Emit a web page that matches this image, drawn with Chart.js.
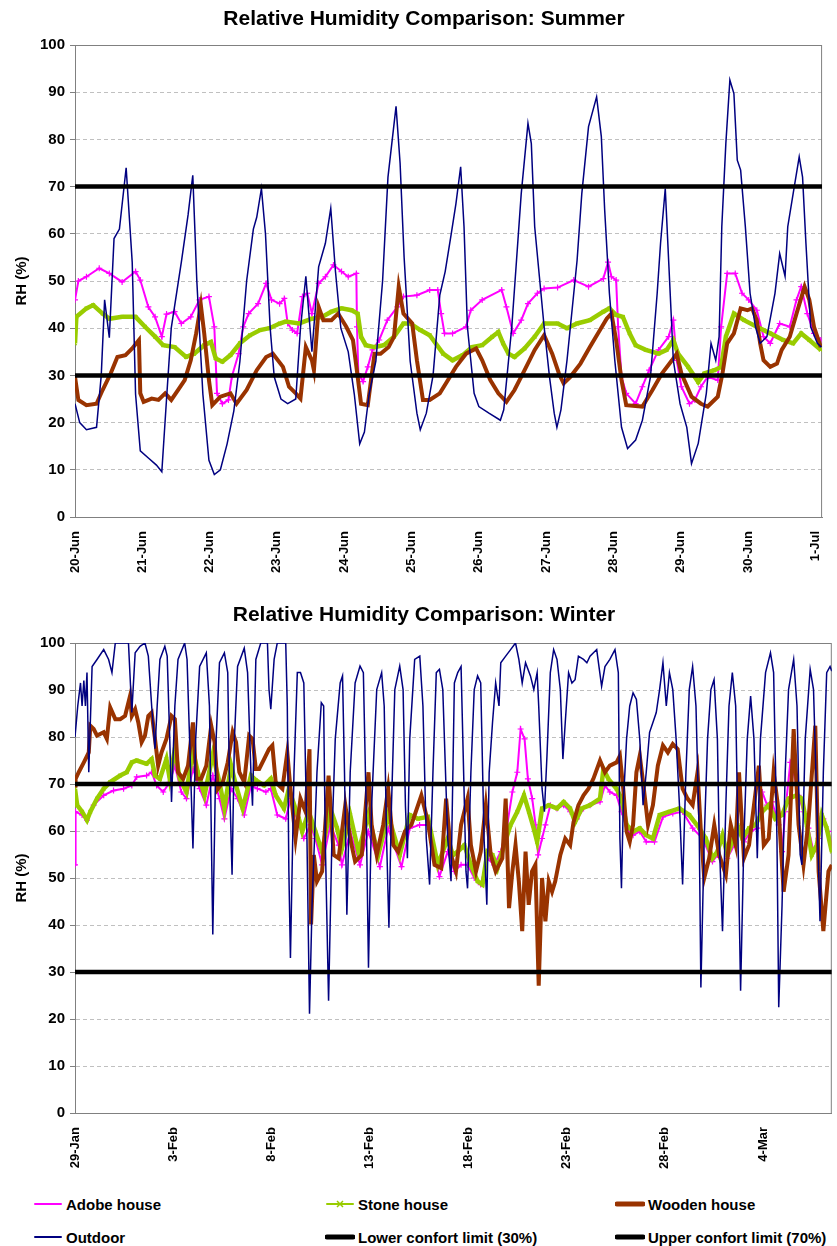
<!DOCTYPE html>
<html>
<head>
<meta charset="utf-8">
<script src="https://cdn.jsdelivr.net/npm/chart.js@4.4.1/dist/chart.umd.min.js"></script>
<style>
  body { margin: 0; background: #fff; width: 837px; height: 1246px; overflow: hidden; font-family: "Liberation Sans", Arial, sans-serif; }
  .chartBox { position: absolute; left: 0; width: 837px; height: 580px; }
  .legendItem { position: absolute; height: 20px; display: flex; align-items: center; font-weight: bold; font-size: 15px; color: #000; white-space: nowrap; }
  .legendItem svg { margin-right: 3px; }
</style>
</head>
<body>
<div class="chartBox" style="top:0"><canvas id="summerChart" width="837" height="580"></canvas></div>
<div class="chartBox" style="top:596px"><canvas id="winterChart" width="837" height="580"></canvas></div>
<div id="legend"></div>
<script>
// ---- data: [day since first tick, RH %] ----
const summerTicks = ['20-Jun', '21-Jun', '22-Jun', '23-Jun', '24-Jun', '25-Jun', '26-Jun', '27-Jun', '28-Jun', '29-Jun', '30-Jun', '1-Jul'];
const winterTicks = ['29-Jan', '3-Feb', '8-Feb', '13-Feb', '18-Feb', '23-Feb', '28-Feb', '4-Mar'];
const lowerLimit = 30;
const upperLimit = 70;

const summerAdobe = [[0,46],[0.05,50],[0.17,50.9],[0.36,52.7],[0.51,51.6],[0.70,49.8],[0.90,52],[0.97,50.2],[1.09,44.5],[1.19,42.4],[1.29,38.2],[1.36,43],[1.48,43.5],[1.58,41],[1.72,42.4],[1.85,46],[1.99,46.7],[2.07,40.3],[2.11,26.2],[2.19,24],[2.28,24.8],[2.33,29.7],[2.43,34.6],[2.50,40.3],[2.58,43.1],[2.72,45.2],[2.84,49.5],[2.92,46],[3.04,45.2],[3.11,46.3],[3.16,41],[3.23,39.6],[3.30,38.9],[3.38,46.7],[3.45,47.4],[3.52,43.1],[3.62,49.5],[3.72,50.9],[3.84,53.4],[3.96,52],[4.06,50.9],[4.18,51.6],[4.19,40.3],[4.21,30.4],[4.28,28.7],[4.35,31.8],[4.42,35.4],[4.52,37.5],[4.64,41.7],[4.79,44.5],[4.88,46.7],[5.08,47],[5.27,48.1],[5.39,48.1],[5.44,43.1],[5.49,38.9],[5.61,38.9],[5.81,40.3],[5.88,43.8],[6.05,46],[6.34,48.1],[6.41,44.5],[6.51,38.9],[6.63,41.7],[6.73,45.2],[6.87,47.4],[6.97,48.4],[7.17,48.6],[7.41,50.2],[7.63,48.8],[7.85,50.5],[7.92,54],[7.97,50.9],[8.04,50.2],[8.07,40.3],[8.12,29.7],[8.19,26.2],[8.33,24],[8.43,27.6],[8.53,31.1],[8.67,35.4],[8.82,38.2],[8.89,41.7],[8.94,33.2],[9.01,27.6],[9.13,24],[9.21,24.8],[9.30,27.6],[9.40,29.7],[9.55,29],[9.60,40.3],[9.69,51.6],[9.81,51.6],[9.91,47.4],[10.01,46],[10.13,43.8],[10.23,38.2],[10.33,36.8],[10.47,41],[10.62,40.3],[10.72,46],[10.79,48.8],[10.88,43.1],[10.98,38.9],[11.08,37.5]];
const summerStone = [[0,36.8],[0.02,42.4],[0.17,44.2],[0.27,44.9],[0.41,43.1],[0.51,42],[0.70,42.4],[0.90,42.4],[1.04,40.3],[1.19,38.2],[1.31,36.4],[1.48,36],[1.65,33.9],[1.77,34.6],[1.92,36.4],[2.02,37.1],[2.09,33.6],[2.19,32.9],[2.31,34.3],[2.45,36.8],[2.60,38.5],[2.75,39.6],[2.89,40],[3.04,41],[3.13,41.4],[3.33,41],[3.52,42],[3.67,42.4],[3.81,43.5],[3.96,44.2],[4.11,43.8],[4.20,43.1],[4.25,38.2],[4.32,36.4],[4.45,36],[4.59,36.4],[4.74,38.2],[4.88,41],[4.98,41],[5.13,39.6],[5.27,38.5],[5.47,34.6],[5.61,33.2],[5.76,34.3],[5.90,36],[6.05,36.4],[6.20,38.2],[6.29,39.2],[6.36,36.8],[6.44,34.6],[6.53,33.9],[6.68,35.7],[6.83,38.2],[6.97,41],[7.17,41],[7.31,40],[7.46,41],[7.65,41.7],[7.85,43.5],[7.94,44.2],[8.04,42.8],[8.14,42.4],[8.24,38.9],[8.33,36.4],[8.48,35.4],[8.67,34.6],[8.79,35.4],[8.89,37.5],[8.96,34.6],[9.11,31.8],[9.26,28.6],[9.35,30.4],[9.50,31.1],[9.60,31.8],[9.67,38.2],[9.79,43.1],[9.94,41.7],[10.13,40.3],[10.33,38.9],[10.52,37.5],[10.67,36.8],[10.79,38.9],[10.91,37.5],[11.08,35.4]];
const summerWooden = [[0,29.7],[0.05,24.8],[0.17,23.7],[0.32,24],[0.41,26.9],[0.53,30.4],[0.63,33.9],[0.75,34.3],[0.85,35.7],[0.95,37.5],[0.97,26.2],[1.02,24.4],[1.14,25.1],[1.24,24.8],[1.34,26.2],[1.43,24.8],[1.53,26.9],[1.63,29],[1.72,33.2],[1.80,38.9],[1.87,44.9],[1.92,38.9],[1.99,29],[2.04,23.7],[2.16,25.5],[2.31,26.2],[2.40,24],[2.55,26.9],[2.70,31.1],[2.84,33.9],[2.94,34.6],[3.09,31.8],[3.18,27.6],[3.28,26.2],[3.35,25.1],[3.43,36],[3.52,33.2],[3.55,31.1],[3.62,44.5],[3.69,41.7],[3.81,41.7],[3.91,43.1],[4.03,40.3],[4.13,37.5],[4.20,29.7],[4.25,24],[4.35,23.7],[4.45,34.6],[4.54,34.6],[4.66,36],[4.74,38.2],[4.81,48.8],[4.88,43.1],[5.01,41],[5.08,33.2],[5.17,24.8],[5.27,24.8],[5.42,26.2],[5.51,28.3],[5.66,31.8],[5.81,34.6],[5.96,35.7],[6.05,33.2],[6.17,29],[6.29,26.2],[6.41,24.4],[6.53,26.9],[6.68,31.1],[6.83,35.4],[6.97,38.5],[7.09,34.6],[7.19,30.4],[7.26,28.3],[7.36,29.7],[7.51,32.5],[7.65,36],[7.80,39.6],[7.90,42],[7.97,43.1],[8.04,37.5],[8.12,29],[8.19,23.7],[8.43,23.4],[8.58,26.9],[8.72,30.4],[8.87,33.2],[8.94,34.6],[9.01,30.4],[9.16,25.5],[9.30,24],[9.40,23.4],[9.55,25.5],[9.62,30.4],[9.69,36.8],[9.79,38.9],[9.89,44.2],[9.99,43.8],[10.06,44.2],[10.13,41.7],[10.18,36.8],[10.23,33.2],[10.33,31.8],[10.43,32.5],[10.50,35.4],[10.62,38.2],[10.72,43.1],[10.84,48.8],[10.91,46],[10.98,40.3],[11.08,36]];
const summerOutdoor = [[0,24],[0.07,20],[0.17,18.5],[0.32,19],[0.39,30],[0.44,46],[0.51,38],[0.58,59],[0.66,61],[0.76,74],[0.85,54],[0.90,26],[0.97,14],[1.09,12.5],[1.21,11],[1.29,9.6],[1.36,25],[1.43,40],[1.58,54],[1.68,64],[1.75,72.4],[1.81,50],[1.90,26],[1.99,12],[2.07,9],[2.16,10],[2.26,15.5],[2.36,22.5],[2.45,33],[2.55,50],[2.65,61],[2.70,63.5],[2.77,69.6],[2.83,60],[2.90,40],[2.96,29.7],[3.06,25],[3.16,24],[3.28,25],[3.35,40],[3.43,51],[3.52,35],[3.62,53],[3.72,58],[3.80,65.4],[3.87,52],[3.95,40],[4.06,35],[4.15,26],[4.23,15.5],[4.30,18],[4.37,26],[4.47,33],[4.57,50],[4.65,72],[4.77,87],[4.83,75],[4.89,55],[4.98,33],[5.08,22],[5.13,18.5],[5.22,22],[5.32,30],[5.42,47],[5.50,52],[5.59,60],[5.66,66.4],[5.73,74.2],[5.78,61.5],[5.83,40.3],[5.93,26.2],[6.00,23.4],[6.15,22],[6.32,20.5],[6.37,22.7],[6.49,40.3],[6.56,54.4],[6.63,68.5],[6.73,83.4],[6.78,79.1],[6.83,61.5],[6.90,50.9],[6.97,40.3],[7.05,29.7],[7.12,22],[7.16,19],[7.22,22.7],[7.31,33.2],[7.46,54.4],[7.53,68.5],[7.63,82.7],[7.75,89],[7.82,80.6],[7.87,65],[7.94,47.4],[8.02,33.2],[8.12,19],[8.21,14.5],[8.33,16.3],[8.43,20.5],[8.55,29.7],[8.65,47.4],[8.70,58],[8.77,69.6],[8.82,54.4],[8.89,33.2],[8.99,24],[9.09,19],[9.16,11.3],[9.26,15.6],[9.38,26.2],[9.45,36.8],[9.52,33.2],[9.57,38.2],[9.61,61.5],[9.67,79.1],[9.73,92.6],[9.79,89.7],[9.84,75.6],[9.89,73.5],[9.96,61.5],[10.03,47.4],[10.11,40.3],[10.18,36.8],[10.28,38.2],[10.40,47.4],[10.47,55.8],[10.55,51],[10.59,61.5],[10.67,68.5],[10.76,76.3],[10.81,72],[10.86,58],[10.93,40.3],[11.03,36.8],[11.09,36]];

const winterAdobe = [[0,52.8],[0.03,64.1],[0.36,63.4],[0.61,62.3],[0.95,65.5],[1.46,67.6],[1.96,68.6],[2.47,69],[2.89,69.7],[3.14,71.5],[3.64,71.8],[3.90,72.5],[4.15,69.7],[4.49,68.3],[4.82,70.4],[5.08,73.9],[5.41,68.3],[5.67,66.9],[6.00,73.2],[6.34,69],[6.68,65.5],[7.01,71.8],[7.35,66.9],[7.60,62.6],[7.94,69],[8.27,66.9],[8.61,63.4],[8.95,69.7],[9.28,69],[9.71,68.3],[9.96,69],[10.29,63.4],[10.72,62.6],[10.97,66.9],[11.39,61.3],[11.64,58.4],[11.98,61.3],[12.23,58.4],[12.57,52.8],[12.99,61.3],[13.41,57],[13.58,52.8],[14.00,59.9],[14.50,52.8],[14.92,59.9],[15.51,52.4],[15.93,60.6],[16.61,52.4],[17.03,60.6],[17.53,61.3],[17.95,61.3],[18.54,50.3],[18.96,55.6],[19.30,51.4],[19.64,52.8],[19.97,52.8],[20.31,50],[20.64,48.6],[20.98,54.2],[21.32,52.8],[21.66,55.6],[21.99,61.3],[22.25,68.3],[22.50,72.5],[22.67,81.7],[22.87,79.6],[23.04,71.1],[23.26,66.9],[23.43,61.3],[23.56,54.9],[23.76,58.4],[23.93,61.3],[24.18,65.5],[24.52,64.8],[24.86,65.5],[25.19,64.1],[25.53,62.6],[25.87,64.8],[26.20,65.5],[26.71,66.2],[26.96,69.7],[27.21,68.3],[27.55,67.6],[27.80,64.1],[28.14,59.9],[28.39,59.1],[28.73,59.9],[29.06,57.7],[29.48,57.7],[29.91,63],[30.41,63.7],[30.91,64.1],[31.42,60.6],[31.93,58.4],[32.43,53.5],[32.68,54.9],[32.94,58.4],[33.19,54.2],[33.53,57],[33.78,59.9],[34.03,57.7],[34.37,59.9],[34.71,60.6],[34.96,68.3],[35.21,65.5],[35.46,66.2],[35.80,61.3],[35.97,55.6],[36.13,64.1],[36.39,74.6],[36.56,72.5],[36.81,67.6],[37.06,64.1],[37.31,60.6],[37.57,55.6],[37.83,58.4],[38.07,62.6],[38.33,59.9],[38.5,57]];
const winterStone = [[0,69],[0.11,65.5],[0.36,64.1],[0.61,62.3],[0.78,64.1],[1.12,66.9],[1.46,69],[1.79,70.4],[2.30,71.8],[2.63,72.5],[2.89,74.6],[3.14,75],[3.64,74.3],[3.90,75.3],[4.07,71.8],[4.32,71.1],[4.65,75.3],[4.82,71.1],[5.08,77.4],[5.33,71.1],[5.67,68.3],[6.00,77.1],[6.25,72.5],[6.59,67.6],[7.01,76.3],[7.35,70.4],[7.60,64.8],[7.94,73.9],[8.19,69.7],[8.53,64.8],[8.95,71.8],[9.20,70.8],[9.62,69.7],[9.96,71.1],[10.21,67.6],[10.63,64.8],[10.88,69],[11.39,62.6],[11.56,59.9],[11.89,64.1],[12.23,59.9],[12.57,55.6],[12.99,64.8],[13.33,60.6],[13.58,56.3],[14.00,63.4],[14.42,55.6],[14.92,63.4],[15.43,54.9],[15.93,63.4],[16.52,54.9],[17.03,63.4],[17.45,62.6],[17.95,63],[18.46,52.8],[18.96,58.4],[19.22,54.9],[19.47,55.6],[19.81,57],[20.14,52.8],[20.48,49.3],[20.73,48.6],[20.98,55.6],[21.24,54.9],[21.49,52.1],[21.83,57],[22.16,61.3],[22.50,64.1],[22.84,67.6],[23.09,64.1],[23.34,60.5],[23.51,57.7],[23.76,64.8],[24.10,65.5],[24.52,64.8],[24.86,66.2],[25.19,64.8],[25.44,61.9],[25.78,64.8],[26.20,65.5],[26.71,66.9],[26.88,73.2],[27.13,71.1],[27.55,69],[27.80,66.9],[28.06,61.3],[28.39,59.9],[28.73,60.6],[29.06,59.1],[29.40,58.4],[29.74,63.4],[30.24,64.1],[30.75,64.8],[31.25,63.4],[31.76,60.6],[32.09,58.4],[32.43,54.2],[32.68,55.6],[32.94,59.1],[33.19,54.9],[33.44,57.7],[33.70,61.3],[33.95,58.4],[34.29,60.6],[34.62,61.3],[34.96,64.1],[35.29,65.5],[35.63,62.6],[35.97,63.4],[36.30,66.9],[36.72,67.6],[36.98,66.9],[37.23,61.3],[37.48,54.9],[37.74,57],[37.99,63.4],[38.24,60.6],[38.5,55.6]];
const winterWooden = [[0,69.7],[0.03,71.1],[0.19,72.5],[0.45,74.6],[0.70,76.7],[0.78,82.4],[0.95,81.7],[1.12,80.3],[1.46,81],[1.62,79.6],[1.79,86.3],[2.05,83.8],[2.30,83.8],[2.55,84.5],[2.80,88.7],[2.89,84.5],[3.06,85.9],[3.22,83.1],[3.39,78.9],[3.56,80.3],[3.73,84.5],[3.90,85.2],[4.07,79.6],[4.23,73.9],[4.40,76.7],[4.65,79.6],[4.91,84.5],[5.08,83.8],[5.24,72.5],[5.50,71.1],[5.75,73.9],[6.00,83.1],[6.17,71.1],[6.42,71.1],[6.68,73.9],[6.93,82.4],[7.10,78.9],[7.26,68.9],[7.52,70.4],[7.77,74.6],[8.02,81],[8.19,78.9],[8.36,72.5],[8.61,70.4],[8.86,80.3],[9.03,79.6],[9.20,73.2],[9.37,73.2],[9.62,75.3],[9.87,77.4],[10.04,78.2],[10.21,70.4],[10.55,69],[10.80,76.7],[10.96,69],[11.22,58.4],[11.47,66.9],[11.73,64.1],[11.93,77.4],[12.01,40.1],[12.15,54.9],[12.31,49.3],[12.57,51.4],[12.90,71.8],[13.16,54.9],[13.41,54.2],[13.75,65.5],[14.00,58.4],[14.25,53.5],[14.59,54.9],[14.93,72.5],[15.09,61.3],[15.35,54.9],[15.68,61.3],[15.93,69],[16.19,57],[16.44,55.6],[16.78,59.9],[17.11,61.3],[17.62,67.6],[17.95,62],[18.29,52.8],[18.63,52.1],[18.88,66.9],[19.13,54.9],[19.38,51.4],[19.64,61.3],[19.97,66.9],[20.14,57],[20.40,51.4],[20.64,55.6],[20.90,65.5],[21.15,54.9],[21.40,51.4],[21.74,54.2],[21.91,66.9],[22.08,43.6],[22.25,51.4],[22.41,57],[22.58,49.3],[22.75,38.7],[22.92,55.6],[23.08,44.3],[23.25,51.4],[23.42,52.8],[23.59,27.1],[23.76,50],[23.93,40.8],[24.10,49.3],[24.27,47.1],[24.43,49.3],[24.69,54.9],[24.94,58.4],[25.19,57],[25.36,61.9],[25.61,65.5],[25.87,67.6],[26.12,69],[26.37,71.1],[26.71,75],[26.96,72.5],[27.21,73.9],[27.55,74.6],[27.72,76],[27.89,69],[28.06,59.9],[28.22,57.7],[28.39,61.3],[28.56,72.5],[28.73,76],[28.90,70.4],[29.15,61.3],[29.40,65.5],[29.65,73.9],[29.91,78.2],[30.16,76.7],[30.41,78.5],[30.66,77.4],[30.91,69],[31.16,66.9],[31.42,65.5],[31.67,72.5],[31.84,59.9],[32.01,50],[32.26,54.2],[32.52,61.3],[32.77,54.9],[33.11,50.7],[33.36,61.3],[33.61,57],[33.78,72.5],[34.03,54.2],[34.29,57],[34.54,65.5],[34.79,73.9],[35.04,57],[35.29,58.4],[35.54,72.5],[35.80,64.1],[36.05,47.1],[36.30,54.9],[36.56,81.7],[36.81,61.3],[37.06,52.8],[37.31,61.9],[37.66,82.4],[37.83,51.4],[38.07,38.7],[38.33,51.4],[38.5,52.8]];
const winterOutdoor = [[0,80],[0.14,86.6],[0.28,91.5],[0.36,86.6],[0.45,92],[0.53,86.6],[0.61,93.7],[0.70,72.5],[0.87,95],[1.12,96.5],[1.46,98.6],[1.71,96.5],[1.88,93.7],[2.05,100],[2.72,100],[2.89,85.2],[3.06,97.9],[3.31,99.3],[3.56,100],[3.73,97.2],[3.90,86.6],[4.07,77.5],[4.18,86.6],[4.32,96.5],[4.57,99.3],[4.69,97.2],[4.82,79.6],[4.91,66.2],[5.08,86.6],[5.24,96.5],[5.58,100],[5.70,96.5],[5.83,79.6],[6.00,56.3],[6.14,79.6],[6.34,95],[6.68,97.9],[6.84,86.6],[7.01,38],[7.18,79.6],[7.35,95.8],[7.60,97.9],[7.77,93.7],[7.85,72.5],[7.99,50.7],[8.11,79.6],[8.27,95],[8.61,98.9],[8.78,93.7],[8.95,72.5],[9.03,65.4],[9.20,96.5],[9.45,100],[9.79,100],[9.87,90.1],[9.96,85.9],[10.13,96.5],[10.29,100],[10.72,100],[10.80,86.6],[10.88,51.4],[10.96,33],[11.14,72.5],[11.31,93.7],[11.47,93.7],[11.64,91.5],[11.80,58.4],[11.93,21.1],[12.06,44.3],[12.31,72.5],[12.53,87.3],[12.65,86.6],[12.73,58.4],[12.90,23.9],[13.07,58.4],[13.24,79.6],[13.49,91.5],[13.61,93],[13.71,72.5],[13.83,42.2],[14.00,72.5],[14.25,91.5],[14.50,95.1],[14.67,93.7],[14.81,65.4],[14.93,30.9],[15.09,65.4],[15.35,90.1],[15.60,93.7],[15.73,86.6],[15.85,58.4],[15.97,39.4],[16.10,65.4],[16.27,90.1],[16.52,95.1],[16.69,90.1],[16.81,65.4],[16.91,54.2],[17.03,79.6],[17.28,96.5],[17.54,97.2],[17.70,86.6],[17.87,58.4],[18.04,48.6],[18.21,72.5],[18.38,93.7],[18.54,94.4],[18.71,90.1],[18.96,58.4],[19.13,49.3],[19.30,91.5],[19.47,93.7],[19.64,95],[19.77,72.5],[19.89,51.4],[19.97,47.8],[20.14,72.5],[20.31,90.1],[20.48,93],[20.64,91.5],[20.81,58.4],[20.95,44.3],[21.07,72.5],[21.24,83.1],[21.40,91.5],[21.57,86.6],[21.66,95.8],[21.91,97.2],[22.16,98.6],[22.41,100],[22.58,96.5],[22.75,91.5],[22.92,95.8],[23.17,93],[23.34,90.1],[23.51,93.7],[23.59,86.6],[23.76,69],[23.88,64.1],[24.01,76],[24.18,93.7],[24.35,98.6],[24.52,96.5],[24.69,90.1],[24.82,75.3],[24.94,83.1],[25.11,93.7],[25.28,91.5],[25.44,92.2],[25.61,97.2],[25.87,96.5],[26.04,95.8],[26.20,97.2],[26.54,98.6],[26.79,90.8],[26.96,95],[27.21,96.5],[27.47,98.6],[27.64,93.7],[27.72,58.4],[27.80,47.8],[27.89,65.4],[28.06,79.6],[28.22,86.6],[28.39,89.4],[28.56,88],[28.73,79.6],[28.90,65.5],[29.06,72.5],[29.23,81],[29.40,83.1],[29.57,85.2],[29.74,90.1],[29.91,95.8],[30.08,86.6],[30.24,93.7],[30.41,90.1],[30.58,79.6],[30.75,65.5],[30.91,48.6],[31.08,72.5],[31.25,90.1],[31.42,95],[31.59,86.6],[31.76,58.4],[31.84,26.7],[32.01,58.4],[32.18,79.6],[32.35,90.1],[32.51,92.2],[32.68,79.6],[32.77,58.4],[32.94,38.7],[33.11,65.5],[33.27,86.6],[33.44,93.7],[33.61,86.6],[33.70,65.5],[33.86,26],[34.03,58.4],[34.20,79.6],[34.37,88.7],[34.54,79.6],[34.71,54.2],[34.87,79.6],[35.13,93.7],[35.38,97.9],[35.54,93.7],[35.71,58.4],[35.80,22.5],[35.97,44.3],[36.13,72.5],[36.30,90.1],[36.56,96.5],[36.73,86.6],[36.89,55],[36.98,52.8],[37.15,79.6],[37.40,94.4],[37.57,90.1],[37.74,65.5],[37.90,40.8],[38.07,72.5],[38.24,93.7],[38.41,95],[38.5,94]];

// ---- styles ----
const FONT = '"Liberation Sans", Arial, sans-serif';
const seriesStyle = {
    adobe:   { label: 'Adobe house', color: '#ff00ff', width: 2, point: 'cross', radius: 3, order: 6 },
    stone:   { label: 'Stone house', color: '#99cc00', width: 4.5, point: 'crossRot', radius: 2.5, order: 5 },
    wooden:  { label: 'Wooden house', color: '#993300', width: 4, point: false, radius: 0, order: 4 },
    outdoor: { label: 'Outdoor', color: '#000080', width: 1.5, point: false, radius: 0, order: 3 },
    lower:   { label: 'Lower confort limit (30%)', color: '#000000', width: 4.5, point: false, radius: 0, order: 2 },
    upper:   { label: 'Upper confort limit (70%)', color: '#000000', width: 4.5, point: false, radius: 0, order: 1 }
};

function toXY(pairs) {
    return pairs.map(p => ({ x: p[0], y: p[1] }));
}

function makeDataset(key, pairs) {
    const s = seriesStyle[key];
    return {
        label: s.label,
        data: toXY(pairs),
        borderColor: s.color,
        backgroundColor: s.color,
        borderWidth: s.width,
        pointStyle: s.point,
        pointRadius: s.radius,
        pointBorderColor: s.color,
        pointBorderWidth: 1.2,
        tension: 0,
        fill: false,
        order: s.order
    };
}

// gray frame round the plot area
const frame = {
    id: 'frame',
    beforeDatasetsDraw(chart) {
        const { ctx, chartArea } = chart;
        ctx.save();
        ctx.strokeStyle = '#808080';
        ctx.lineWidth = 1;
        ctx.strokeRect(chartArea.left + 0.5, chartArea.top + 0.5, chartArea.right - chartArea.left - 1, chartArea.bottom - chartArea.top);
        ctx.restore();
    }
};

function renderRhChart(elementId, title, tickLabels, tickStep, xMax, set, titleBottom) {
    const ctx = document.getElementById(elementId);
    const datasets = [
        makeDataset('adobe', set.adobe),
        makeDataset('stone', set.stone),
        makeDataset('wooden', set.wooden),
        makeDataset('outdoor', set.outdoor),
        makeDataset('lower', [[0, lowerLimit], [xMax, lowerLimit]]),
        makeDataset('upper', [[0, upperLimit], [xMax, upperLimit]])
    ];
    return new Chart(ctx, {
        type: 'line',
        data: { datasets: datasets },
        options: {
            responsive: false,
            animation: false,
            devicePixelRatio: 1,
            // left padding shifts the centred title right, as in the original
            layout: { padding: { left: 12, right: 1, top: 0, bottom: 0 } },
            plugins: {
                legend: { display: false },
                tooltip: { enabled: false },
                title: {
                    display: true,
                    text: title,
                    color: '#000',
                    font: { family: FONT, size: 21, weight: 'bold' },
                    padding: { top: 7, bottom: titleBottom }
                }
            },
            scales: {
                x: {
                    type: 'linear',
                    min: 0,
                    max: xMax,
                    afterBuildTicks: (scale) => {
                        scale.ticks = tickLabels.map((_, i) => ({ value: i * tickStep }));
                    },
                    afterFit: (scale) => { scale.height = 63; },
                    ticks: {
                        autoSkip: false,
                        minRotation: 90,
                        maxRotation: 90,
                        padding: 6,
                        color: '#000',
                        font: { family: FONT, size: 13, weight: 'bold' },
                        callback: (value, index) => tickLabels[index]
                    },
                    grid: { display: false },
                    border: { color: '#808080', width: 1 }
                },
                y: {
                    min: 0,
                    max: 100,
                    afterFit: (scale) => { scale.width = 63; },
                    ticks: {
                        stepSize: 10,
                        padding: 5,
                        color: '#000',
                        font: { family: FONT, size: 15, weight: 'bold' }
                    },
                    grid: { color: '#c0c0c0', lineWidth: 1, drawTicks: true, tickLength: 5, tickColor: '#808080' },
                    border: { color: '#808080', width: 1, dash: [4, 3] },
                    title: {
                        display: true,
                        text: 'RH (%)',
                        color: '#000',
                        font: { family: FONT, size: 15, weight: 'bold' },
                        padding: { top: 1, bottom: 0 }
                    }
                }
            }
        },
        plugins: [frame]
    });
}

renderRhChart('summerChart', 'Relative Humidity Comparison: Summer', summerTicks, 1, 11.1,
    { adobe: summerAdobe, stone: summerStone, wooden: summerWooden, outdoor: summerOutdoor }, 12.8);
renderRhChart('winterChart', 'Relative Humidity Comparison: Winter', winterTicks, 5, 38.5,
    { adobe: winterAdobe, stone: winterStone, wooden: winterWooden, outdoor: winterOutdoor }, 14.8);

// ---- legend (shared, below both charts) ----
const legendPos = [
    ['adobe', 33, 1194], ['stone', 325, 1194], ['wooden', 615, 1194],
    ['outdoor', 33, 1227], ['lower', 325, 1227], ['upper', 615, 1227]
];
const legendEl = document.getElementById('legend');
legendPos.forEach(([key, x, y]) => {
    const s = seriesStyle[key];
    const thick = (key === 'wooden' || key === 'lower' || key === 'upper') ? 5 : 2;
    let marker = '';
    if (key === 'stone') {
        marker = `<path d="M12 3 L18 9 M18 3 L12 9" stroke="${s.color}" stroke-width="1.5"/>`;
    }
    const item = document.createElement('div');
    item.className = 'legendItem';
    item.style.left = x + 'px';
    item.style.top = y + 'px';
    item.innerHTML = `<svg width="30" height="12"><line x1="2" y1="6" x2="28" y2="6" stroke="${s.color}" stroke-width="${thick}" stroke-linecap="round"/>${marker}</svg><span>${s.label}</span>`;
    legendEl.appendChild(item);
});
</script>
</body>
</html>
